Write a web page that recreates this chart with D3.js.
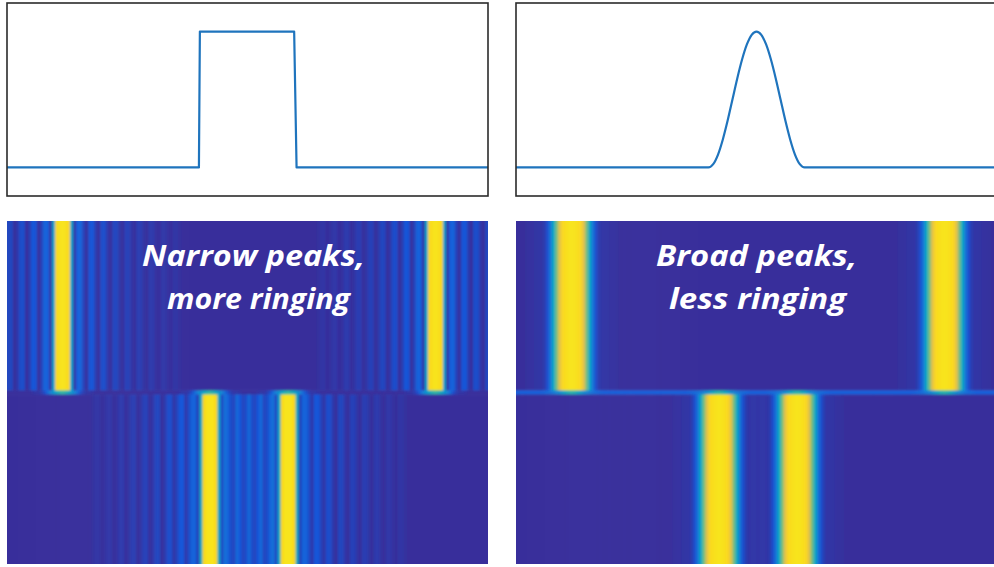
<!DOCTYPE html>
<html>
<head>
<meta charset="utf-8">
<script src="https://cdn.jsdelivr.net/npm/d3@7"></script>
<style>
  body { margin: 0; background: #fff; }
  svg { display: block; }
</style>
</head>
<body>
<svg id="chart" width="994" height="567"></svg>
<script>
// window shapes (time axis 0..1)
const rect_t = [0, 0.399, 0.401, 0.597, 0.602, 1];
const rect_v = [0, 0, 1, 1, 0, 0];
const hann_t = [0, 0.40, 0.41, 0.42, 0.43, 0.44, 0.45, 0.46, 0.47, 0.48, 0.49, 0.50,
                0.51, 0.52, 0.53, 0.54, 0.55, 0.56, 0.57, 0.58, 0.59, 0.60, 1];
const hann_v = [0, 0, 0.024, 0.095, 0.206, 0.345, 0.5, 0.655, 0.794, 0.905, 0.976, 1,
                0.976, 0.905, 0.794, 0.655, 0.5, 0.345, 0.206, 0.095, 0.024, 0, 0];

// spectrogram: frequency bins across, time frames down
const n_cols = 160;
const n_rows = 85;
const transition_row = 42;
const top_peaks = [18, 142];
const bottom_peaks = [67, 93];

// magnitude (colour index) by bin distance from a peak
const rect_kernel = [1.0, 0.98, 0.93, 0.36, 0.02, 0.15, 0.16, 0.06, 0.0, 0.11, 0.12, 0.04, 0.0,
                     0.09, 0.09, 0.03, 0.0, 0.07, 0.07, 0.025, 0.0, 0.055, 0.055, 0.02, 0.0,
                     0.045, 0.045, 0.015, 0.0, 0.035, 0.035, 0.01, 0.0, 0.025, 0.025, 0.01, 0.0,
                     0.02, 0.02, 0.005, 0.0];
const rect_edge_kernel = [0.5, 0.46, 0.4, 0.32, 0.26, 0.18, 0.09, 0.04, 0.02, 0.02, 0.01];
const hann_kernel = [1.0, 0.99, 0.97, 0.93, 0.8, 0.6, 0.4, 0.22, 0.1, 0.04, 0.02, 0.02,
                     0.015, 0.01, 0.01, 0.005];
const hann_edge_kernel = [0.32, 0.3, 0.26, 0.2, 0.15, 0.11, 0.08, 0.05, 0.03, 0.02, 0.01];
const hann_edge_floor = 0.15;

const labels_left = ["Narrow peaks,", "more ringing"];
const labels_right = ["Broad peaks,", "less ringing"];

const parula_stops = [0, 0.125, 0.25, 0.375, 0.5, 0.625, 0.75, 0.875, 1];
const parula_colors = ["#372f9b", "#1458dc", "#1481d6", "#06a4ca", "#2eb7a4",
                       "#87bf77", "#d1bb59", "#fbcc2a", "#f8e41a"];

const svg = d3.select("#chart");
const defs = svg.append("defs");
defs.append("filter").attr("id", "soft")
  .append("feGaussianBlur").attr("stdDeviation", 0.9);

const color = d3.scaleLinear().domain(parula_stops).range(parula_colors)
  .interpolate(d3.interpolateRgb).clamp(true);

const panel_w = 481;
const panels = [
  {x0: 7,   t: rect_t, v: rect_v, curve: d3.curveLinear, kernel: rect_kernel,
   edge_kernel: rect_edge_kernel, edge_floor: 0, labels: labels_left, label_w: [223, 183], label_cx: [253.5, 258.5]},
  {x0: 516, t: hann_t, v: hann_v, curve: d3.curveMonotoneX, kernel: hann_kernel,
   edge_kernel: hann_edge_kernel, edge_floor: hann_edge_floor, labels: labels_right, label_w: [201, 177], label_cx: [756.5, 757.5]}
];

function profile(kernel, peaks, floor) {
  return d3.range(n_cols).map(c => {
    let s = floor;
    peaks.forEach(p => { s += kernel[Math.abs(c - p)] || 0; });
    return Math.min(1, s);
  });
}

panels.forEach((p, pi) => {
  // top: window function
  let x = d3.scaleLinear().domain([0, 1]).range([p.x0, p.x0 + panel_w]);
  let y = d3.scaleLinear().domain([-0.21, 1.21]).range([196, 3]);
  let g = svg.append("g").attr("class", "window_panel");
  g.append("path")
    .datum(p.t.map((t, i) => [t, p.v[i]]))
    .attr("fill", "none").attr("stroke", "#1f74bd").attr("stroke-width", 2.2)
    .attr("stroke-linejoin", "round")
    .attr("d", d3.line().x(d => x(d[0])).y(d => y(d[1])).curve(p.curve));
  g.append("rect")
    .attr("x", p.x0).attr("y", 3).attr("width", panel_w).attr("height", 193)
    .attr("fill", "none").attr("stroke", "#2b2b2b").attr("stroke-width", 1.6);

  // bottom: spectrogram
  let xs = d3.scaleBand().domain(d3.range(n_cols)).range([p.x0, p.x0 + panel_w]);
  let ys = d3.scaleLinear().domain([0, n_rows]).range([221, 564]);
  let segments = [
    {r0: 0, r1: transition_row, vals: profile(p.kernel, top_peaks, 0)},
    {r0: transition_row, r1: transition_row + 1,
     vals: profile(p.edge_kernel, top_peaks.concat(bottom_peaks), p.edge_floor)},
    {r0: transition_row + 1, r1: n_rows, vals: profile(p.kernel, bottom_peaks, 0)}
  ];
  let cells = [];
  segments.forEach((s, si) => {
    s.vals.forEach((v, c) => cells.push({c: c, si: si, r0: s.r0, r1: s.r1, v: v}));
  });

  defs.append("clipPath").attr("id", "clip" + pi)
    .append("rect").attr("x", p.x0).attr("y", 221).attr("width", panel_w).attr("height", 343);
  let hm = svg.append("g").attr("clip-path", "url(#clip" + pi + ")")
    .append("g").attr("filter", "url(#soft)");
  hm.selectAll("rect").data(cells).enter().append("rect")
    .attr("x", d => xs(d.c) - (d.c === 0 ? 4 : 0))
    .attr("width", d => xs.bandwidth() + 0.6 + (d.c === 0 || d.c === n_cols - 1 ? 4 : 0))
    .attr("y", d => ys(d.r0) - (d.si === 0 ? 4 : 0))
    .attr("height", d => ys(d.r1) - ys(d.r0) + 0.4 + (d.si === 0 || d.si === 2 ? 4 : 0))
    .attr("fill", d => color(d.v));

  svg.append("g").selectAll("text").data(p.labels).enter().append("text")
    .attr("x", (d, i) => p.label_cx[i])
    .attr("y", (d, i) => 266 + i * 43)
    .attr("text-anchor", "middle")
    .attr("textLength", (d, i) => p.label_w[i])
    .attr("lengthAdjust", "spacingAndGlyphs")
    .style("font-family", "'Open Sans', 'Noto Sans', sans-serif")
    .style("font-weight", "bold").style("font-style", "italic")
    .style("font-size", "28px").attr("fill", "#fff")
    .text(d => d);
});
</script>
</body>
</html>
